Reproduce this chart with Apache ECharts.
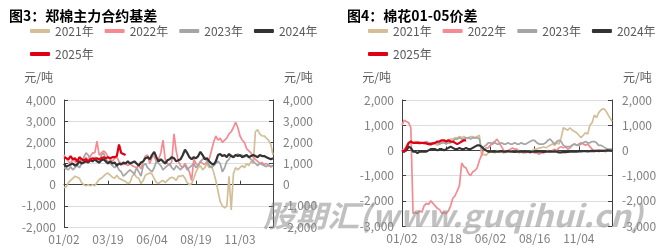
<!DOCTYPE html>
<html>
<head>
<meta charset="utf-8">
<script src="https://cdn.jsdelivr.net/npm/echarts@6/dist/echarts.min.js"></script>
<style>
html,body{margin:0;padding:0;background:#fff;}
#c{width:661px;height:250px;}
</style>
</head>
<body>
<div id="c"></div>
<script>
// ---------- data ----------
const seriesNames = ['2021年', '2022年', '2023年', '2024年', '2025年'];

const dates1 = ('01/02 01/06 01/09 01/13 01/16 01/20 01/23 01/27 02/05 02/10 02/13 02/17 02/20 02/24 02/27 03/03 03/06 03/10 03/13 03/17 ' +
  '03/19 03/24 03/27 03/31 04/03 04/08 04/11 04/15 04/18 04/22 04/25 04/29 05/06 05/09 05/13 05/16 05/20 05/23 05/27 05/30 ' +
  '06/04 06/09 06/12 06/16 06/19 06/23 06/26 06/30 07/03 07/07 07/10 07/14 07/17 07/21 07/24 07/28 07/31 08/04 08/07 08/14 ' +
  '08/19 08/22 08/26 08/29 09/02 09/05 09/09 09/12 09/16 09/19 09/23 09/26 09/30 10/10 10/14 10/17 10/21 10/24 10/28 10/31 ' +
  '11/03 11/06 11/10 11/13 11/17 11/20 11/24 11/27 12/01 12/04 12/08 12/11 12/15 12/18 12/22 12/25').split(' ');

const dates2 = ('01/02 01/06 01/09 01/13 01/16 01/20 01/23 01/27 02/05 02/10 02/13 02/17 02/20 02/24 02/27 03/03 03/06 03/10 03/12 03/14 ' +
  '03/18 03/21 03/25 03/28 04/01 04/07 04/10 04/14 04/17 04/21 04/24 04/28 05/06 05/09 05/13 05/16 05/20 05/23 05/27 05/29 ' +
  '06/02 06/05 06/09 06/12 06/16 06/19 06/23 06/26 06/30 07/03 07/07 07/10 07/14 07/17 07/21 07/24 07/28 07/31 08/06 08/12 ' +
  '08/16 08/20 08/23 08/27 08/30 09/03 09/06 09/10 09/13 09/17 09/20 09/24 09/27 10/08 10/11 10/15 10/18 10/22 10/25 10/29 ' +
  '11/04 11/07 11/11 11/14 11/18 11/21 11/25 11/28 12/02 12/05 12/09 12/12 12/16 12/19 12/23 12/26').split(' ');

// 图3 郑棉主力合约基差 (元/吨)
const basis2021 = [-150,-100,100,200,300,400,350,300,100,0,
  -50,0,-50,0,-50,100,250,300,400,500,
  550,450,350,300,450,300,250,200,150,50,
  100,400,500,350,300,50,200,450,500,550,
  500,300,100,50,150,200,100,200,300,350,
  300,200,400,400,450,300,100,0,50,300,
  600,800,900,700,800,1000,800,900,600,200,
  -300,-800,-1000,-1100,-1000,400,-1200,500,800,700,
  800,900,800,1000,900,1100,1000,2500,2600,2400,
  2300,2300,2200,2100,1900,1400];
const basis2022 = [1400,1250,1100,1000,1200,1100,1000,1100,1200,1050,
  1300,1150,1350,1500,1500,2050,1400,1500,1600,1500,
  1300,1200,1100,1250,1300,1100,1000,950,1000,900,
  1000,900,850,800,900,750,1100,1350,1400,1000,
  1300,1350,1100,1200,1500,2100,1200,1000,900,1100,
  2400,1600,1100,900,800,1000,800,600,200,1200,
  1000,900,1100,1000,950,1100,1200,1600,2000,2300,
  2100,2200,2000,2100,2200,2400,2500,2700,2950,2700,
  2300,2100,2000,1700,1600,1500,1300,1200,1100,1000,
  1050,950,1000,900,850,900];
const basis2023 = [800,750,700,850,700,800,900,800,1000,1300,
  1500,1400,1200,1100,1300,1200,1000,1400,1500,1200,
  1100,1000,900,800,900,700,600,400,500,600,
  700,600,500,800,600,400,900,1000,800,700,
  600,800,1100,1000,900,700,800,900,1000,800,
  700,900,800,700,850,900,700,800,900,1000,
  800,900,1100,1200,1300,1100,900,800,900,1000,
  1100,1000,600,800,1100,1200,1400,1300,1400,1450,
  1350,1400,1300,1400,1300,1200,1100,1000,900,1000,
  950,900,850,950,850,900];
const basis2024 = [1000,850,900,950,1000,900,950,1100,1000,1050,
  1100,1050,1150,1100,1200,1100,1050,1150,1200,1100,
  1000,1100,1000,1050,900,1000,950,1050,1000,1100,
  1000,1050,1100,1000,900,1050,1100,1250,1300,1200,
  1400,1550,1300,1100,1200,1100,1000,1150,1200,1300,
  1250,1100,1150,1200,1400,1650,1500,1300,1200,1300,
  1250,1350,1550,1400,1200,1250,1100,1000,950,1100,
  1400,1450,1350,1400,1300,1450,1350,1300,1400,1350,
  1400,1300,1350,1400,1300,1350,1400,1350,1300,1400,
  1350,1350,1300,1250,1200,1250];
const basis2025 = [1300,1250,1200,1350,1200,1250,1100,1300,1200,1150,
  1200,1100,1200,1250,1200,1250,1200,1250,1300,1250,
  1300,1250,1300,1300,1350,1900,1500,1450,1400];

// 图4 棉花01-05价差 (元/吨)
const spread2021 = [0,50,200,300,300,300,350,300,250,300,
  250,300,250,200,300,250,200,250,300,350,
  300,400,450,450,500,500,550,500,550,500,
  500,550,550,500,550,600,-200,-150,-200,-100,
  -50,-50,-100,0,-50,-50,-100,-50,-50,0,
  -50,-50,-50,-100,-50,-50,-100,-50,-50,0,
  50,50,100,100,150,100,150,200,250,200,
  300,250,500,900,850,800,900,800,750,700,
  600,500,600,700,650,1000,1100,1400,1300,1500,
  1600,1650,1600,1450,1300,1150];
const spread2022 = [1000,1200,1150,1100,900,-2500,-2450,-2500,-2400,-2450,
  -2200,-2100,-2150,-2000,-2100,-2200,-2300,-2350,-2500,-2450,
  -2500,-2400,-2200,-1900,-1800,-1600,-1400,-500,-650,-700,
  -900,-1000,-850,-800,-700,-400,-200,50,100,100,
  200,300,350,450,300,150,0,-50,0,50,
  100,50,50,-50,-50,-100,-50,-50,-100,-50,
  -100,-100,-150,-100,-100,-50,0,-50,0,50,
  0,100,150,100,150,50,100,200,250,200,
  250,300,250,200,250,150,50,0,0,-50,
  0,0,-50,0,0,0];
const spread2023 = [0,0,100,300,350,300,300,350,300,300,
  300,350,300,300,250,300,300,250,300,300,
  250,300,300,350,450,450,500,450,450,500,
  500,450,500,500,500,450,50,150,200,300,
  300,250,300,250,250,300,250,250,300,250,
  250,300,250,250,300,250,250,300,350,400,
  400,300,250,250,250,300,400,450,350,250,
  350,400,350,200,150,150,150,200,250,200,
  200,250,300,350,300,300,350,350,300,200,
  200,150,100,50,50,50];
const spread2024 = [-50,-50,0,150,100,-50,-50,-100,-50,-50,
  -50,-50,0,50,50,50,0,50,50,0,
  50,100,150,100,50,50,100,50,50,100,
  50,50,100,150,200,200,150,50,0,-50,
  -50,-50,-50,-50,-50,-30,-50,-50,-30,-50,
  -50,-60,-50,-50,-40,-50,-50,-50,-60,-50,
  -50,-50,-40,-50,-60,-50,-50,-40,-50,-50,
  -50,-80,-80,-60,-70,-60,-50,-50,-40,-50,
  -40,-40,-30,-30,-40,-30,-20,-30,-20,-10,
  -20,-20,-10,0,-10,-20];
const spread2025 = [0,-50,100,300,350,300,300,300,300,300,
  300,280,250,250,280,300,350,350,400,400,
  350,400,350,350,300,250,300,350,400,400];

// ---------- styling ----------
const FONT = '"Noto Sans CJK SC", "Noto Sans", sans-serif';
const colors = ['#D3BE97', '#F58A90', '#A5A5A5', '#333333', '#E00014'];
const widths = [1.7, 1.7, 1.7, 2.2, 2.2];
const AX = '#404040';
const LBL = '#808080';

function fmt(v) { return v.toLocaleString('en-US'); }

function yAxis(grid, side, min, max) {
  const left = side === 'left';
  return {
    type: 'value', gridIndex: grid, position: side,
    min: min, max: max, interval: 1000,
    name: '元/吨', nameLocation: 'end', nameGap: 23,
    nameTextStyle: {
      fontFamily: FONT, fontSize: 12, color: '#595959',
      align: left ? 'right' : 'left', verticalAlign: 'middle',
      padding: left ? [0, 11, 0, 0] : [0, 0, 0, 11]
    },
    axisLine: { show: true, lineStyle: { color: AX, width: 1 } },
    axisTick: { show: true, inside: true, length: 4, lineStyle: { color: AX } },
    axisLabel: { margin: left ? 8 : 10, color: LBL, fontSize: 12, fontFamily: FONT, formatter: fmt },
    splitLine: { show: left, lineStyle: { color: '#DCDCE6', width: 1 } }
  };
}

function xAxis(grid, data) {
  return {
    type: 'category', gridIndex: grid, data: data, boundaryGap: false,
    axisLine: { show: true, lineStyle: { color: AX, width: 1 } },
    axisTick: { show: true, inside: true, length: 4, interval: 19, lineStyle: { color: AX } },
    axisLabel: { interval: 19, margin: 6, color: LBL, fontSize: 12, fontFamily: FONT },
    splitLine: { show: false }
  };
}

function legend(left) {
  return {
    left: left, top: 20, width: 300,
    icon: 'roundRect', itemWidth: 20, itemHeight: 4, itemGap: 11,
    textStyle: { fontFamily: FONT, fontSize: 12, color: '#595959' },
    data: seriesNames
  };
}

const set1 = [basis2021, basis2022, basis2023, basis2024, basis2025];
const set2 = [spread2021, spread2022, spread2023, spread2024, spread2025];
const series = [];
[set1, set2].forEach(function (set, g) {
  set.forEach(function (vals, k) {
    series.push({
      name: seriesNames[k], type: 'line', data: vals,
      xAxisIndex: g, yAxisIndex: g * 2,
      symbol: 'none', showSymbol: false,
      lineStyle: { color: colors[k], width: widths[k] },
      itemStyle: { color: colors[k] },
      z: 2 + k
    });
  });
});

const chart = echarts.init(document.getElementById('c'), null, { renderer: 'canvas' });
chart.setOption({
  animation: false,
  backgroundColor: '#fff',
  title: [
    { text: '图3：郑棉主力合约基差', left: 4, top: 4,
      textStyle: { fontFamily: FONT, fontSize: 14, fontWeight: 'bold', color: '#000' } },
    { text: '图4：棉花01-05价差', left: 342, top: 4,
      textStyle: { fontFamily: FONT, fontSize: 14, fontWeight: 'bold', color: '#000' } }
  ],
  legend: [legend(25), legend(363)],
  grid: [
    { left: 64, top: 100, width: 209, height: 127 },
    { left: 402, top: 100, width: 210, height: 126 }
  ],
  xAxis: [xAxis(0, dates1), xAxis(1, dates2)],
  yAxis: [
    yAxis(0, 'left', -2000, 4000), yAxis(0, 'right', -2000, 4000),
    yAxis(1, 'left', -3000, 2000), yAxis(1, 'right', -3000, 2000)
  ],
  series: series,
  graphic: [{
    type: 'text', x: 263, y: 201, scaleX: 1.07, z: 100, silent: true,
    style: {
      text: '股期汇(www.guqihui.cn)',
      font: 'italic bold 30px ' + FONT,
      fill: 'rgba(140,140,140,0.55)'
    }
  }]
});
</script>
</body>
</html>
